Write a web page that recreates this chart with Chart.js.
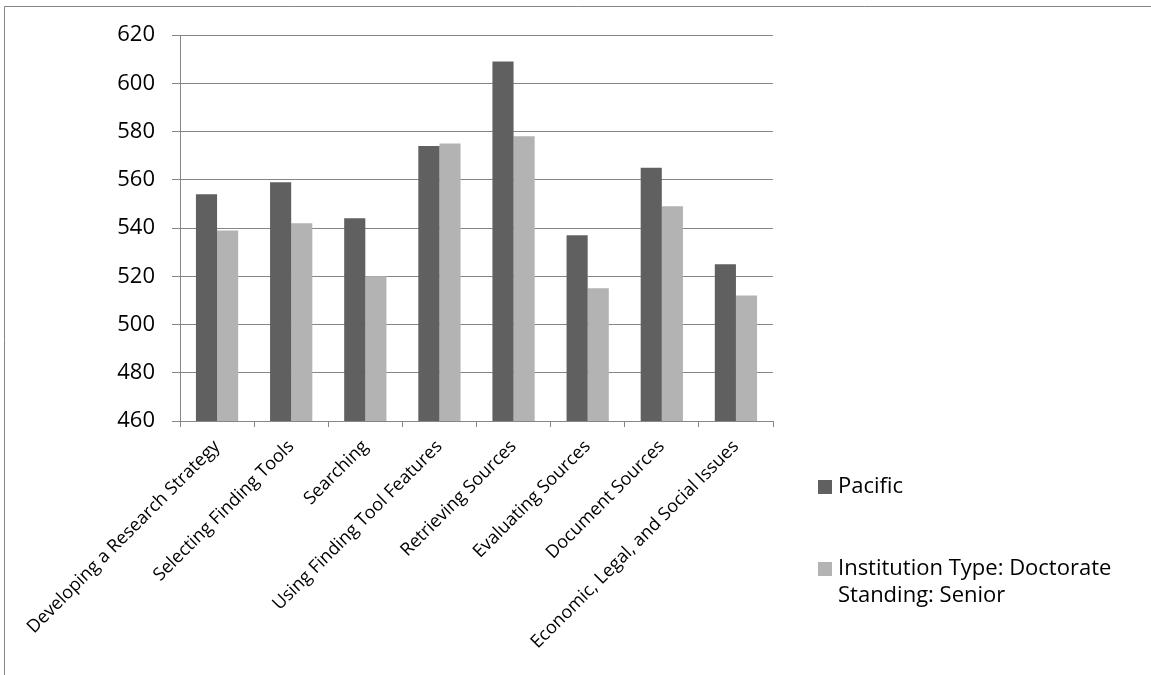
<!DOCTYPE html>
<html>
<head>
<meta charset="utf-8">
<script src="https://cdn.jsdelivr.net/npm/chart.js@4/dist/chart.umd.min.js"></script>
<style>
  html, body { margin: 0; padding: 0; background: #ffffff; }
  #wrap { position: relative; width: 1151px; height: 675px; }
  canvas { display: block; }
</style>
</head>
<body>
<div id="wrap"><canvas id="chart" width="1151" height="675"></canvas></div>
<script>
// Skill areas on the category axis
const categories = [
  'Developing a Research Strategy',
  'Selecting Finding Tools',
  'Searching',
  'Using Finding Tool Features',
  'Retrieving Sources',
  'Evaluating Sources',
  'Document Sources',
  'Economic, Legal, and Social Issues'
];

// Mean scores per skill area
const pacific = [554, 559, 544, 574, 609, 537, 565, 525];
const doctorateSenior = [539, 542, 520, 575, 578, 515, 549, 512];

// Series names (second one spans two lines)
const seriesPacific = 'Pacific';
const seriesDoctorateSenior = ['Institution Type: Doctorate', 'Standing: Senior'];

// Value axis range
const yMin = 460;
const yMax = 620;
const yStep = 20;

const FONT = '"Open Sans", "DejaVu Sans", sans-serif';
const GRID = '#868686';

// Thin frame along the top and left edge of the chart object
const framePlugin = {
  id: 'frame',
  beforeDraw(chart) {
    const ctx = chart.ctx;
    ctx.save();
    ctx.fillStyle = '#ffffff';
    ctx.fillRect(0, 0, chart.width, chart.height);
    ctx.strokeStyle = '#858585';
    ctx.lineWidth = 1;
    ctx.beginPath();
    ctx.moveTo(chart.width, 6.5);
    ctx.lineTo(4.5, 6.5);
    ctx.lineTo(4.5, chart.height);
    ctx.stroke();
    ctx.restore();
  }
};

// Legend on the right, one entry per dataset, multi-line names allowed
const sideLegendPlugin = {
  id: 'sideLegend',
  afterDraw(chart, args, opts) {
    const ctx = chart.ctx;
    ctx.save();
    ctx.font = opts.fontSize + 'px ' + FONT;
    ctx.textBaseline = 'middle';
    ctx.textAlign = 'left';
    chart.data.datasets.forEach((ds, i) => {
      const y0 = opts.rows[i];
      ctx.fillStyle = ds.backgroundColor;
      ctx.fillRect(opts.x, y0 - opts.box / 2, opts.box, opts.box);
      ctx.fillStyle = '#000000';
      const lines = Array.isArray(ds.label) ? ds.label : [ds.label];
      lines.forEach((t, k) => {
        ctx.fillText(t, opts.x + opts.box + 6, y0 + k * opts.lineHeight);
      });
    });
    ctx.restore();
  }
};

new Chart(document.getElementById('chart'), {
  type: 'bar',
  data: {
    labels: categories,
    datasets: [
      {
        label: seriesPacific,
        data: pacific,
        backgroundColor: '#606060',
        borderWidth: 0,
        categoryPercentage: 0.57,
        barPercentage: 1.0
      },
      {
        label: seriesDoctorateSenior,
        data: doctorateSenior,
        backgroundColor: '#b3b3b3',
        borderWidth: 0,
        categoryPercentage: 0.57,
        barPercentage: 1.0
      }
    ]
  },
  options: {
    responsive: false,
    animation: false,
    devicePixelRatio: 1,
    layout: { padding: { top: 35, right: 378, left: 0, bottom: 0 } },
    plugins: {
      legend: { display: false },
      tooltip: { enabled: false },
      sideLegend: { x: 818, rows: [487, 569], box: 14, fontSize: 22, lineHeight: 27 }
    },
    scales: {
      x: {
        grid: {
          display: true,
          drawOnChartArea: false,
          drawTicks: true,
          tickLength: 6,
          color: GRID,
          offset: true
        },
        border: { display: true, color: GRID, width: 1 },
        ticks: {
          autoSkip: false,
          maxRotation: 45,
          minRotation: 45,
          padding: 9,
          color: '#000000',
          font: { family: FONT, size: 18 }
        },
        afterFit(scale) { scale.height = 254; }
      },
      y: {
        min: yMin,
        max: yMax,
        grid: {
          color: GRID,
          lineWidth: 1,
          drawTicks: true,
          tickLength: 8
        },
        border: { display: true, color: GRID, width: 1 },
        ticks: {
          stepSize: yStep,
          padding: 17,
          color: '#000000',
          font: { family: FONT, size: 22 }
        },
        afterFit(scale) { scale.width = 180; }
      }
    }
  },
  plugins: [framePlugin, sideLegendPlugin]
});
</script>
</body>
</html>
